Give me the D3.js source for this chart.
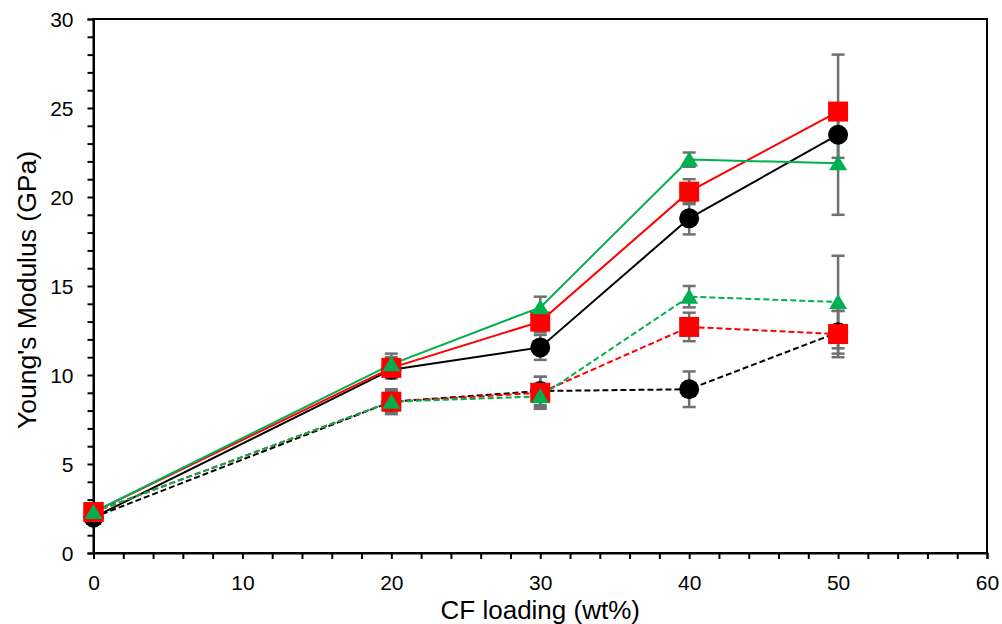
<!DOCTYPE html>
<html>
<head>
<meta charset="utf-8">
<script src="https://cdn.jsdelivr.net/npm/d3@7"></script>
<style>
  html, body { margin: 0; padding: 0; background: #fff; }
  svg { display: block; }
  text { font-family: Arial, "Liberation Sans", sans-serif; fill: #000; }
</style>
</head>
<body>
<svg id="chart" width="1002" height="624"></svg>
<script>
// ---- data ----
const loadings = [0, 20, 30, 40, 50];

const solidBlack = [2.0, 10.3, 11.55, 18.8, 23.5];
const solidBlackErr = [0, 0.4, 0.7, 0.9, 1.3];
const solidRed = [2.3, 10.4, 13.0, 20.3, 24.8];
const solidRedErr = [0, 0.6, 0.6, 0.7, 3.2];
const solidGreen = [2.3, 10.6, 13.8, 22.1, 21.9];
const solidGreenErr = [0, 0.6, 0.6, 0.4, 2.9];

const dashedBlack = [2.0, 8.5, 9.1, 9.2, 12.4];
const dashedBlackErr = [0, 0.5, 0.8, 1.0, 1.2];
const dashedRed = [2.3, 8.5, 9.0, 12.7, 12.3];
const dashedRedErr = [0, 0.7, 0.9, 0.8, 1.3];
const dashedGreen = [2.3, 8.5, 8.8, 14.4, 14.1];
const dashedGreenErr = [0, 0.6, 0.6, 0.6, 2.6];

const xTicks = [0, 10, 20, 30, 40, 50, 60];
const yTicks = [0, 5, 10, 15, 20, 25, 30];
const xTitle = "CF loading (wt%)";
const yTitle = "Young's Modulus (GPa)";

const series = [
  { values: solidBlack, err: solidBlackErr, color: "#000000", marker: "circle", dashed: false },
  { values: solidRed, err: solidRedErr, color: "#FF0000", marker: "square", dashed: false },
  { values: solidGreen, err: solidGreenErr, color: "#00B050", marker: "triangle", dashed: false },
  { values: dashedBlack, err: dashedBlackErr, color: "#000000", marker: "circle", dashed: true },
  { values: dashedRed, err: dashedRedErr, color: "#FF0000", marker: "square", dashed: true },
  { values: dashedGreen, err: dashedGreenErr, color: "#00B050", marker: "triangle", dashed: true }
];

// ---- layout ----
const svg = d3.select("#chart");
const L = 93.5, R = 987, T = 19, B = 553;
const x = d3.scaleLinear().domain([0, 60]).range([L, R]);
const y = d3.scaleLinear().domain([0, 30]).range([B, T]);

// frame
svg.append("rect").attr("x", L).attr("y", T).attr("width", R - L).attr("height", B - T)
  .attr("fill", "none").attr("stroke", "#000").attr("stroke-width", 2);

// axes
const xAxis = d3.axisBottom(x).tickValues(d3.range(0, 61, 2)).tickSize(6)
  .tickFormat(d => (xTicks.includes(d) ? d : ""));
const gx = svg.append("g").attr("transform", `translate(0,${B})`).call(xAxis);
const yAxis = d3.axisLeft(y).tickValues(d3.range(0, 31, 1)).tickSize(6)
  .tickFormat(d => (yTicks.includes(d) ? d : ""));
const gy = svg.append("g").attr("transform", `translate(${L},0)`).call(yAxis);
[gx, gy].forEach(g => {
  g.select(".domain").attr("stroke", "#000").attr("stroke-width", 2);
  g.selectAll(".tick line").attr("stroke", "#000").attr("stroke-width", 2);
  g.selectAll(".tick text").attr("font-size", "21px").attr("font-family", "Arial, 'Liberation Sans', sans-serif").attr("fill", "#000");
});
gx.selectAll(".tick text").attr("dy", "0").attr("y", 37);
gy.selectAll(".tick text").attr("x", -20).attr("dy", "0.35em");

// titles
svg.append("text").attr("x", (L + R) / 2).attr("y", 618.5).attr("text-anchor", "middle")
  .attr("font-size", "26px").text(xTitle);
svg.append("text").attr("transform", `translate(36,290) rotate(-90)`)
  .attr("text-anchor", "middle").attr("font-size", "26.5px").text(yTitle);

// error bars
const errG = svg.append("g");
series.forEach(s => {
  loadings.forEach((ld, i) => {
    const e = s.err[i];
    if (!e) return;
    const cx = x(ld), y1 = y(s.values[i] - e), y2 = y(s.values[i] + e);
    errG.append("line").attr("x1", cx).attr("x2", cx).attr("y1", y1).attr("y2", y2)
      .attr("stroke", "#707070").attr("stroke-width", 2.5);
    [y1, y2].forEach(yy => errG.append("line").attr("x1", cx - 6.5).attr("x2", cx + 6.5)
      .attr("y1", yy).attr("y2", yy).attr("stroke", "#707070").attr("stroke-width", 2.5));
  });
});

// lines
const line = d3.line().x(d => x(d[0])).y(d => y(d[1]));
series.forEach(s => {
  svg.append("path").datum(loadings.map((ld, i) => [ld, s.values[i]]))
    .attr("d", line).attr("fill", "none").attr("stroke", s.color).attr("stroke-width", 2)
    .attr("stroke-dasharray", s.dashed ? "6,3" : null);
});

// markers
series.forEach(s => {
  const g = svg.append("g");
  loadings.forEach((ld, i) => {
    const cx = x(ld), cy = y(s.values[i]);
    if (s.marker === "circle") {
      g.append("circle").attr("cx", cx).attr("cy", cy).attr("r", 10).attr("fill", s.color);
    } else if (s.marker === "square") {
      g.append("rect").attr("x", cx - 10).attr("y", cy - 10).attr("width", 20).attr("height", 20).attr("fill", s.color);
    } else {
      g.append("path").attr("d", `M${cx},${cy - 8}L${cx + 9},${cy + 7}L${cx - 9},${cy + 7}Z`).attr("fill", s.color);
    }
  });
});
</script>
</body>
</html>
